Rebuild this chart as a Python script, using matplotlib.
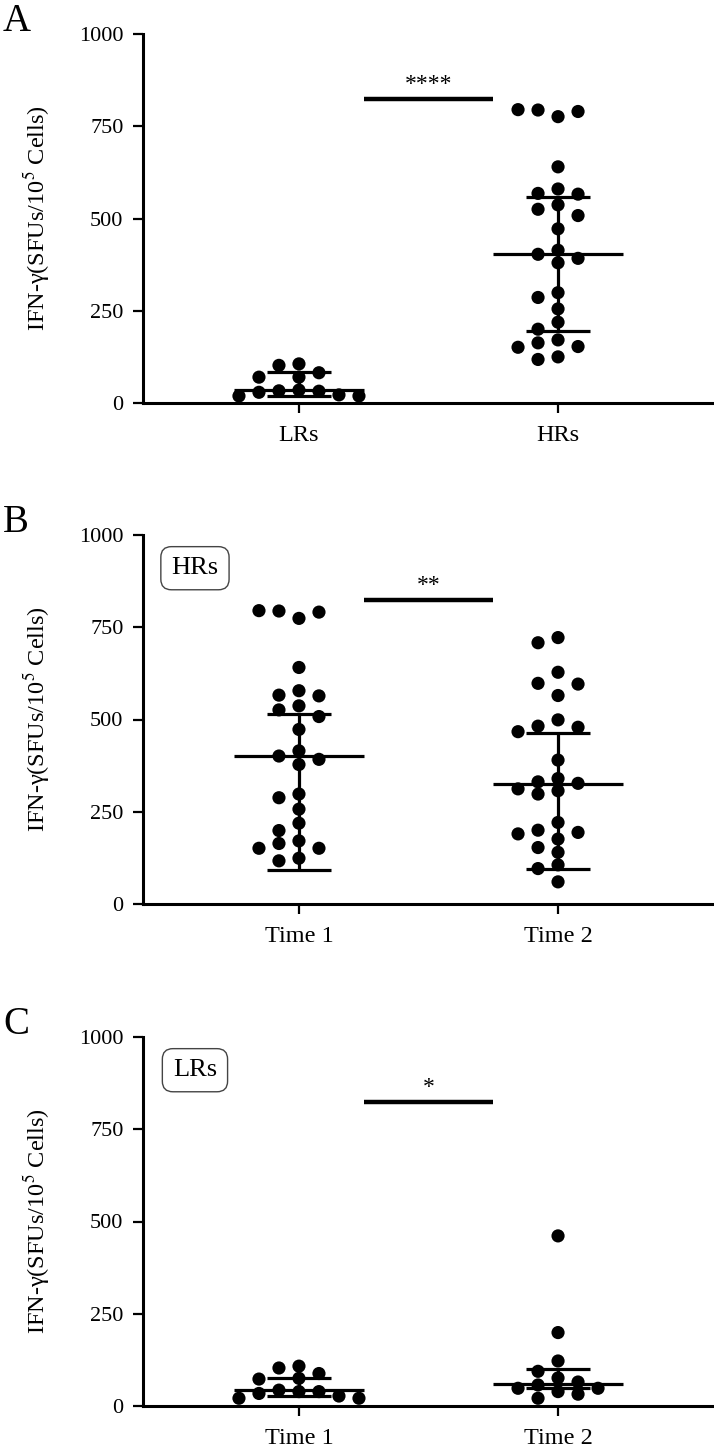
import numpy as np
import matplotlib
matplotlib.use("Agg")
import matplotlib.pyplot as plt

plt.rcParams["font.family"] = ["Liberation Serif", "DejaVu Serif"]
plt.rcParams["mathtext.fontset"] = "stix"

W, H, DPI = 714, 1453, 100

# ---- donnees ----
# panneau A : LRs vs HRs
a_cats = ["LRs", "HRs"]
a_lrs = [106, 102, 82, 70, 70, 35, 33, 32, 29, 22, 19, 19]
a_hrs = [776, 794, 790, 795, 640, 580, 568, 566, 537, 525, 508, 472,
         414, 403, 392, 380, 299, 286, 255, 219, 200, 171, 163, 153,
         151, 125, 118]
a_med = [36, 403]
a_q1 = [20, 196]
a_q3 = [85, 557]
a_star = "****"

# panneau B : HRs, temps 1 vs temps 2
b_cats = ["Time 1", "Time 2"]
b_t1 = [774, 794, 791, 795, 641, 578, 566, 564, 537, 526, 508, 473,
        415, 401, 392, 378, 298, 288, 257, 219, 199, 171, 164, 151,
        151, 124, 117]
b_t2 = [722, 708, 628, 598, 596, 565, 499, 482, 479, 467, 390, 340,
        331, 327, 312, 307, 298, 221, 200, 194, 190, 176, 153, 140,
        106, 96, 60]
b_med = [401, 325]
b_q1 = [92, 94]
b_q3 = [516, 464]
b_star = "**"

# panneau C : LRs, temps 1 vs temps 2
c_cats = ["Time 1", "Time 2"]
c_t1 = [108, 103, 88, 75, 73, 43, 39, 39, 34, 27, 21, 21]
c_t2 = [461, 199, 122, 94, 76, 65, 57, 48, 48, 39, 32, 21]
c_med = [43, 59]
c_q1 = [28, 48]
c_q3 = [76, 100]
c_star = "*"

ylab = "IFN-γ(SFUs/10$^5$ Cells)"


def colonnes(vals, px_unit, min_dy=12):
    # placement en colonnes facon GraphPad
    ordre = [0, -1, 1, -2, 2, -3, 3, -4, 4, -5, 5]
    places = []
    cols = []
    for v in vals:
        for c in ordre:
            ok = True
            for pc, pv in places:
                if pc == c and abs(pv - v) * px_unit < min_dy:
                    ok = False
                    break
            if ok:
                break
        places.append((c, v))
        cols.append(c)
    return np.array(cols)


def panneau(fig, rect, lettre, cats, groupes, med, q1, q3, star, boite=None):
    ax = fig.add_axes(rect)
    ax.set_xlim(-0.602, 1.602)
    ax.set_ylim(0, 1000)
    px_y = rect[3] * H / 1000.0
    px_x = rect[2] * W / 2.204
    col_px = 20.0

    for i, vals in enumerate(groupes):
        ax.hlines(med[i], i - 0.25, i + 0.25, color="black", lw=2.3, zorder=2)
        ax.hlines([q1[i], q3[i]], i - 0.125, i + 0.125, color="black", lw=2.3, zorder=2)
        ax.vlines(i, q1[i], q3[i], color="black", lw=2.3, zorder=2)
        cols = colonnes(vals, px_y)
        xs = i + cols * col_px / px_x
        ax.scatter(xs, vals, s=90, color="black", edgecolors="none",
                   zorder=3, clip_on=False)

    ax.plot([0.25, 0.75], [825, 825], color="black", lw=3.2,
            solid_capstyle="butt")
    ax.text(0.5, 834, star, ha="center", va="bottom", fontsize=17)

    if boite:
        ax.text(0.091, 0.91, boite, transform=ax.transAxes, ha="center",
                va="center", fontsize=19,
                bbox=dict(boxstyle="round,pad=0.4", fc="white",
                          ec="#444444", lw=1.0))

    ax.set_xticks([0, 1])
    ax.set_xticklabels(cats, fontsize=17.5)
    ax.set_yticks([0, 250, 500, 750, 1000])
    ax.tick_params(axis="y", labelsize=16, length=7, width=1.6, pad=7)
    ax.tick_params(axis="x", length=7, width=1.6, pad=9)
    for s in ["top", "right"]:
        ax.spines[s].set_visible(False)
    for s in ["left", "bottom"]:
        ax.spines[s].set_linewidth(2.2)

    ax.set_ylabel(ylab, fontsize=17.5)
    ax.yaxis.set_label_coords(-0.16, 0.5)

    fig.text(3 / W, rect[1] + rect[3] + 31 / H, lettre, fontsize=28,
             ha="left", va="top")
    return ax


fig = plt.figure(figsize=(W / DPI, H / DPI), dpi=DPI)
fig.patch.set_facecolor("white")

largeur = 1 - 143 / W
haut = 369 / H

panneau(fig, [143 / W, 1 - 403 / H, largeur, haut], "A", a_cats,
        [a_lrs, a_hrs], a_med, a_q1, a_q3, a_star)
panneau(fig, [143 / W, 1 - 904 / H, largeur, haut], "B", b_cats,
        [b_t1, b_t2], b_med, b_q1, b_q3, b_star, boite="HRs")
panneau(fig, [143 / W, 1 - 1406 / H, largeur, haut], "C", c_cats,
        [c_t1, c_t2], c_med, c_q1, c_q3, c_star, boite="LRs")

plt.savefig("out.png", dpi=DPI)
